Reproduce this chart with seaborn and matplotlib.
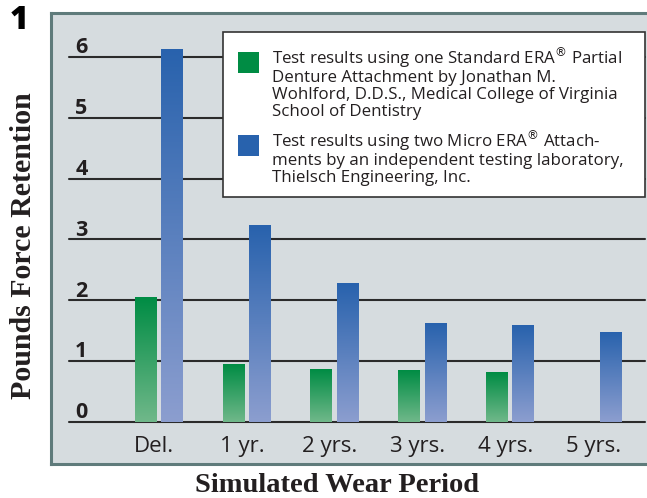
import numpy as np
import pandas as pd
import matplotlib
matplotlib.use('Agg')
import matplotlib.pyplot as plt
from matplotlib.colors import LinearSegmentedColormap
from matplotlib.patches import Rectangle
import seaborn as sns

# Data
periods = ['Del.', '1 yr.', '2 yrs.', '3 yrs.', '4 yrs.', '5 yrs.']
standard_era = [2.05, 0.95, 0.87, 0.85, 0.82, np.nan]
micro_era = [6.13, 3.23, 2.28, 1.62, 1.59, 1.48]
y_ticks = [0, 1, 2, 3, 4, 5, 6]

series_names = ['Standard ERA', 'Micro ERA']
legend_texts = [
    'Test results using one Standard ERA$^{\u00ae}$ Partial\n'
    'Denture Attachment by Jonathan M.\n'
    'Wohlford, D.D.S., Medical College of Virginia\n'
    'School of Dentistry',
    'Test results using two Micro ERA$^{\u00ae}$ Attach-\n'
    'ments by an independent testing laboratory,\n'
    'Thielsch Engineering, Inc.',
]

# gradient colours (top, bottom)
green = ('#008c44', '#70b88a')
blue = ('#2862ad', '#8c9ecf')
panel_color = '#d6dcdf'
border_color = '#5f7b7b'
text_color = '#231f20'

df = pd.DataFrame({
    'period': periods * 2,
    'series': [series_names[0]] * len(periods) + [series_names[1]] * len(periods),
    'value': standard_era + micro_era,
}).dropna()

W, H = 647, 498
fig = plt.figure(figsize=(W / 100, H / 100), dpi=100)
sns.set_style('white')
plt.rcParams['font.family'] = ['Open Sans', 'DejaVu Sans']


def fx(px):
    return px / W


def fy(py):
    return 1 - py / H


# axes = grey panel
ax = fig.add_axes([fx(51), fy(464), fx(647) - fx(51), fy(13) - fy(464)])
ax.set_facecolor(panel_color)

sns.barplot(data=df, x='period', y='value', hue='series', order=periods,
            hue_order=series_names, palette=[green[0], blue[0]],
            width=0.6, gap=0.18, errorbar=None, legend=False, ax=ax,
            zorder=3)

XLIM = (-1.228, 5.56)
YLIM = (-0.69, 6.72)

for spine in ['left', 'top', 'bottom']:
    ax.spines[spine].set_color(border_color)
    ax.spines[spine].set_linewidth(2.2)
ax.spines['right'].set_visible(False)
ax.set_xticks([])
ax.set_yticks([])
ax.set_xlabel('')
ax.set_ylabel('')

# grid lines + tick labels inside the panel
for t in y_ticks:
    ax.axhline(t, xmin=0.030, xmax=0.997, color='#2b2b2b', lw=1.5, zorder=1)
    ax.text(0.051, t + 0.06, str(t), transform=ax.get_yaxis_transform(),
            ha='center', va='baseline', fontsize=15.5, fontweight='bold',
            color=text_color)

for i, p in enumerate(periods):
    ax.text(i - 0.05, -0.49, p, ha='center', va='baseline', fontsize=16,
            color=text_color)

# gradient fill on each bar
for cont, (top, bottom) in zip(ax.containers, [green, blue]):
    cmap = LinearSegmentedColormap.from_list('g', [bottom, top])
    for bar in cont:
        h = bar.get_height()
        if not np.isfinite(h) or h <= 0:
            continue
        x0 = bar.get_x()
        w = bar.get_width()
        grad = np.linspace(0, 1, 256).reshape(-1, 1)
        im = ax.imshow(grad, cmap=cmap, origin='lower', aspect='auto',
                       extent=[x0, x0 + w, 0, h], zorder=3)
        im.set_clip_path(bar)
        bar.set_facecolor('none')
        bar.set_edgecolor('none')
ax.set_xlim(*XLIM)
ax.set_ylim(*YLIM)

# legend box
fig.patches.append(Rectangle((fx(223), fy(197)), fx(645) - fx(223), fy(32) - fy(197),
                             transform=fig.transFigure, facecolor='white',
                             edgecolor='#333333', lw=1.2, zorder=5))
for (top, _), txt, py0 in zip([green, blue], legend_texts, [52, 135]):
    fig.patches.append(Rectangle((fx(238), fy(py0 + 21)), fx(21), fy(0) - fy(21),
                                 transform=fig.transFigure, facecolor=top,
                                 edgecolor='none', zorder=6))
    fig.text(fx(272), fy(py0 - 7), txt, ha='left', va='top', fontsize=12.2,
             linespacing=1.05, color=text_color, zorder=7)

# figure number and axis titles
fig.text(fx(19), fy(21), '1', ha='center', va='center', fontsize=23,
         fontweight='heavy', color='black')
fig.text(fx(24), fy(246), 'Pounds Force Retention', rotation=90,
         ha='center', va='center', fontsize=21.5, fontweight='bold',
         family='Liberation Serif', color=text_color)
fig.text(fx(337), fy(485), 'Simulated Wear Period', ha='center',
         va='center', fontsize=20.5, fontweight='bold',
         family='Liberation Serif', color=text_color)

fig.savefig('out.png', dpi=100)
